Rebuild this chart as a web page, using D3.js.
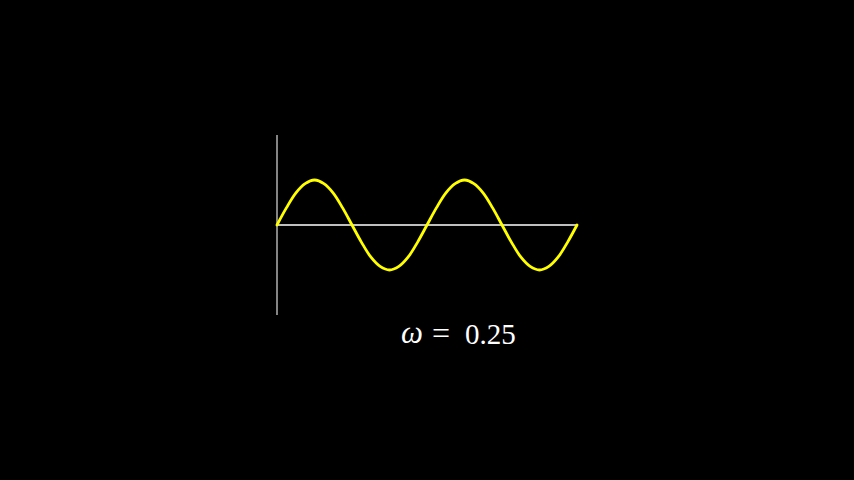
<!DOCTYPE html>
<html>
<head>
<meta charset="utf-8">
<script src="https://cdn.jsdelivr.net/npm/d3@7"></script>
<style>
html,body{margin:0;padding:0;background:#000;}
svg{display:block;}
</style>
</head>
<body>
<svg id="chart" width="854" height="480"></svg>
<script>
// Data (time t, signal value)
const tValues = [0,0.25,0.5,0.75,1,1.25,1.5,1.75,2,2.25,2.5,2.75,3,3.25,3.5,3.75,4,4.25,4.5,4.75,5,5.25,5.5,5.75,6,6.25,6.5,6.75,7,7.25,7.5,7.75,8];
const yValues = [0,0.38,0.71,0.92,1,0.92,0.71,0.38,0,-0.38,-0.71,-0.92,-1,-0.92,-0.71,-0.38,0,0.38,0.71,0.92,1,0.92,0.71,0.38,0,-0.38,-0.71,-0.92,-1,-0.92,-0.71,-0.38,0];
const xDomain = [0, 8];
const yDomain = [-2, 2];
const omegaLabel = "0.25";

const svg = d3.select("#chart");
svg.append("rect").attr("width",854).attr("height",480).attr("fill","#000");

const x = d3.scaleLinear().domain(xDomain).range([277, 577]);
const y = d3.scaleLinear().domain(yDomain).range([315, 135]);

// horizontal axis
svg.append("line")
  .attr("x1", x(xDomain[0])).attr("x2", x(xDomain[1]))
  .attr("y1", y(0)).attr("y2", y(0))
  .attr("stroke", "#ffffff").attr("stroke-width", 1.5);

// vertical axis
svg.append("line")
  .attr("x1", x(0)).attr("x2", x(0))
  .attr("y1", y(yDomain[0])).attr("y2", y(yDomain[1]))
  .attr("stroke", "#b0b0b0").attr("stroke-width", 1.5);

const pts = tValues.map((t,i)=>[t, yValues[i]]);
const line = d3.line().x(d=>x(d[0])).y(d=>y(d[1])).curve(d3.curveCatmullRom.alpha(0.5));

svg.append("path")
  .attr("d", line(pts))
  .attr("fill","none")
  .attr("stroke","#ffff00")
  .attr("stroke-width",2.8)
  .attr("stroke-linejoin","round")
  .attr("stroke-linecap","round");

// label
const g = svg.append("g").attr("fill","#fff").attr("font-family","'Liberation Serif','DejaVu Serif',serif");
g.append("text").attr("x",401).attr("y",343).attr("font-size",31).attr("font-style","italic").text("ω");
g.append("text").attr("x",432).attr("y",344).attr("font-size",32).text("=");
g.append("text").attr("x",465).attr("y",344).attr("font-size",29).text(omegaLabel);
</script>
</body>
</html>
